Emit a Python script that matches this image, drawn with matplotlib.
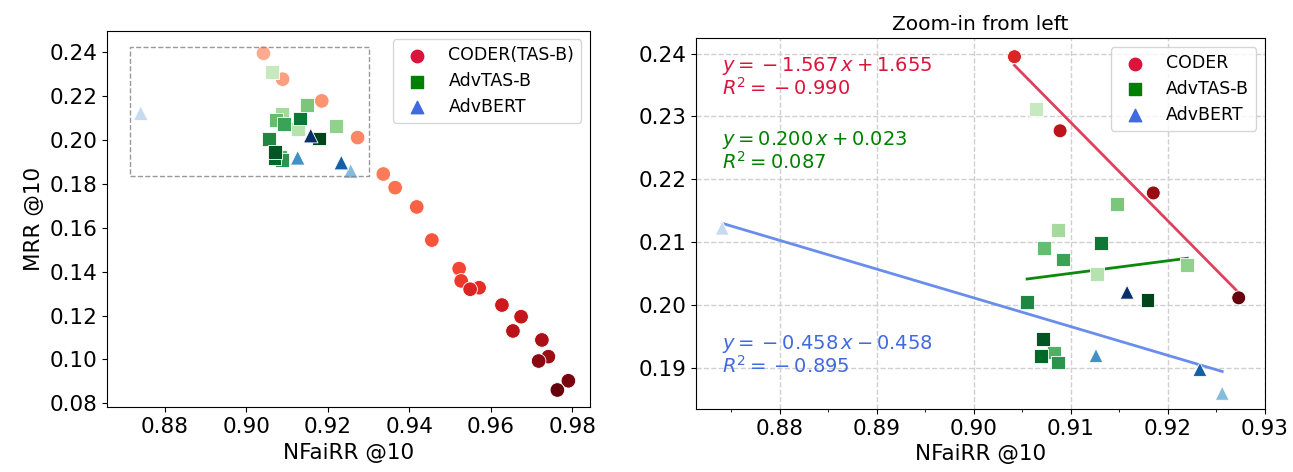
import numpy as np
import matplotlib
matplotlib.use('Agg')
import matplotlib.pyplot as plt

# CODER(TAS-B) runs, ordered from lightest to darkest colour
coder_x = [0.9042, 0.9089, 0.9185, 0.9273, 0.9336, 0.9365, 0.9418, 0.9455, 0.9522, 0.9527,
           0.9571, 0.9549, 0.9627, 0.9674, 0.9654, 0.9725, 0.9741, 0.9717, 0.9790, 0.9763]
coder_y = [0.2395, 0.2277, 0.2178, 0.2011, 0.1845, 0.1783, 0.1695, 0.1544, 0.1414, 0.1358,
           0.1327, 0.1320, 0.1248, 0.1195, 0.1130, 0.1089, 0.1013, 0.0993, 0.0903, 0.0861]

# AdvTAS-B runs, lightest to darkest
tas_x = [0.9064, 0.9127, 0.9087, 0.9220, 0.9148, 0.9072, 0.9083,
         0.9092, 0.9087, 0.9055, 0.9131, 0.9069, 0.9071, 0.9179]
tas_y = [0.2311, 0.2049, 0.2119, 0.2063, 0.2161, 0.2090, 0.1924,
         0.2072, 0.1908, 0.2005, 0.2098, 0.1918, 0.1946, 0.2007]

# AdvBERT runs, lightest to darkest
bert_x = [0.8741, 0.9256, 0.9126, 0.9233, 0.9158]
bert_y = [0.2122, 0.1859, 0.1919, 0.1897, 0.2020]

# regression lines shown in the zoomed panel
fit_slope = [-1.567, 0.200, -0.458]
fit_intercept = [1.655, 0.023, 0.6133]
fit_text = [r'$y = {}-1.567\,x + 1.655$' + '\n' + r'$R^2 = {}-0.990$',
            r'$y = 0.200\,x + 0.023$' + '\n' + r'$R^2 = 0.087$',
            r'$y = {}-0.458\,x - 0.458$' + '\n' + r'$R^2 = {}-0.895$']

zoom_xlim = (0.8714, 0.9300)
zoom_ylim = (0.1834, 0.2424)

fig = plt.figure(figsize=(12.93, 4.72), dpi=100)
ax1 = fig.add_axes([0.083, 0.137, 0.3733, 0.798])
ax2 = fig.add_axes([0.5383, 0.1335, 0.440, 0.785])

c_red = plt.cm.Reds(np.linspace(0.3, 1.0, len(coder_x)))
c_green = plt.cm.Greens(np.linspace(0.25, 1.0, len(tas_x)))
c_blue = plt.cm.Blues(np.linspace(0.25, 1.0, len(bert_x)))

fs = 15.5

# ---- left panel: everything
ax1.scatter(coder_x, coder_y, c=c_red, marker='o', s=110, edgecolors='white', linewidths=0.6)
ax1.scatter(tas_x, tas_y, c=c_green, marker='s', s=100, edgecolors='white', linewidths=0.6)
ax1.scatter(bert_x, bert_y, c=c_blue, marker='^', s=110, edgecolors='white', linewidths=0.6)
ax1.scatter([], [], c='crimson', marker='o', s=80, label='CODER(TAS-B)')
ax1.scatter([], [], c='green', marker='s', s=80, label='AdvTAS-B')
ax1.scatter([], [], c='royalblue', marker='^', s=80, label='AdvBERT')

# dashed box showing the zoomed region
ax1.plot([zoom_xlim[0], zoom_xlim[1], zoom_xlim[1], zoom_xlim[0], zoom_xlim[0]],
         [zoom_ylim[0], zoom_ylim[0], zoom_ylim[1], zoom_ylim[1], zoom_ylim[0]],
         ls='--', c='gray', lw=1, alpha=0.8)

ax1.set_xlim(0.8659, 0.9843)
ax1.set_ylim(0.0782, 0.2498)
ax1.set_xticks([0.88, 0.90, 0.92, 0.94, 0.96, 0.98])
ax1.set_yticks(np.arange(0.08, 0.241, 0.02))
ax1.set_xlabel('NFaiRR @10', fontsize=fs)
ax1.set_ylabel('MRR @10', fontsize=fs)
ax1.tick_params(labelsize=fs)
ax1.legend(loc='upper right', fontsize=12.5, handletextpad=0.8, labelspacing=0.45)

# ---- right panel: zoom-in
inside = [(x >= zoom_xlim[0]) and (x <= zoom_xlim[1]) for x in coder_x]
zx = [x for x, k in zip(coder_x, inside) if k]
zy = [y for y, k in zip(coder_y, inside) if k]
c_red2 = plt.cm.Reds(np.linspace(0.7, 1.0, len(zx)))

ax2.grid(True, ls='--', c='#d0d0d0', lw=1)
ax2.set_axisbelow(True)

ax2.scatter(zx, zy, c=c_red2, marker='o', s=100, edgecolors='white', linewidths=0.6, zorder=3)
ax2.scatter(tas_x, tas_y, c=c_green, marker='s', s=100, edgecolors='white', linewidths=0.6, zorder=3)
ax2.scatter(bert_x, bert_y, c=c_blue, marker='^', s=100, edgecolors='white', linewidths=0.6, zorder=3)

series_x = [zx, tas_x, bert_x]
line_colors = ['#e0405c', '#0a8a0a', '#6a8ded']
text_colors = ['crimson', 'green', 'royalblue']
text_y = [0.955, 0.755, 0.205]
for i in range(3):
    xs = np.array([min(series_x[i]), max(series_x[i])])
    ax2.plot(xs, fit_slope[i] * xs + fit_intercept[i], c=line_colors[i], lw=2, zorder=2)
    ax2.text(0.046, text_y[i], fit_text[i], color=text_colors[i], fontsize=14,
             transform=ax2.transAxes, va='top', ha='left', linespacing=1.0)

ax2.scatter([], [], c='crimson', marker='o', s=80, label='CODER')
ax2.scatter([], [], c='green', marker='s', s=80, label='AdvTAS-B')
ax2.scatter([], [], c='royalblue', marker='^', s=80, label='AdvBERT')

ax2.set_xlim(zoom_xlim)
ax2.set_ylim(zoom_ylim)
ax2.set_xticks([0.88, 0.89, 0.90, 0.91, 0.92, 0.93])
ax2.set_xticks(np.arange(0.875, 0.93, 0.01), minor=True)
ax2.set_yticks([0.19, 0.20, 0.21, 0.22, 0.23, 0.24])
ax2.set_xlabel('NFaiRR @10', fontsize=fs)
ax2.set_title('Zoom-in from left', fontsize=14.5)
ax2.tick_params(labelsize=fs)
ax2.legend(loc='upper right', fontsize=12.5, handletextpad=0.8, labelspacing=0.45)

plt.savefig('out.png', dpi=100)
